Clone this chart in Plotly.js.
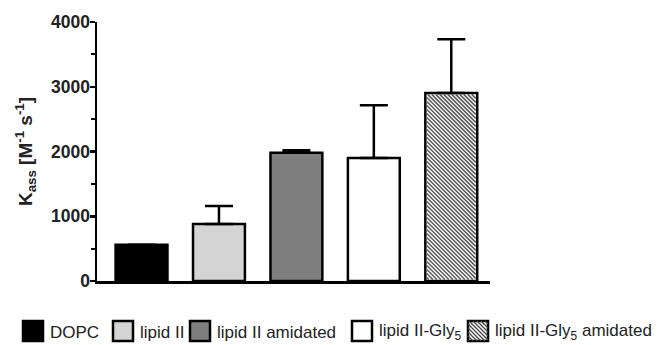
<!DOCTYPE html>
<html>
<head>
<meta charset="utf-8">
<script src="https://cdn.plot.ly/plotly-3.0.1.min.js"></script>
<style>html,body{margin:0;padding:0;background:#fff;}#chart{width:663px;height:345px;}</style>
</head>
<body>
<div id="chart"></div>
<script>
const categories = ["DOPC", "lipid II", "lipid II amidated", "lipid II-Gly<sub>5</sub>", "lipid II-Gly<sub>5</sub> amidated"];
const kassValues = [560, 880, 1980, 1900, 2905];
const kassErrors = [0, 280, 40, 815, 830];
const yTickVals = [0, 1000, 2000, 3000, 4000];
const yTickText = ["0", "1000", "2000", "3000", "4000"];

const fills = ["#000000", "#d4d4d4", "#7f7f7f", "#ffffff", "#ffffff"];
const hatched = [false, false, false, false, true];

const M = {l: 97, r: 173, t: 22, b: 64};
const W = 663, H = 345;
const pw = W - M.l - M.r, ph = H - M.t - M.b;
const XR = [-0.575, 4.5], YR = [0, 4000];
const BW = 0.67;
const fx = x => (x - M.l) / pw;
const fy = y => (H - M.b - y) / ph;
// pixel <-> data helpers
const dx2px = v => M.l + (v - XR[0]) / (XR[1] - XR[0]) * pw;
const px2dx = p => XR[0] + (p - M.l) / pw * (XR[1] - XR[0]);
const dy2px = v => H - M.b - (v - YR[0]) / (YR[1] - YR[0]) * ph;
const px2dy = p => YR[0] + (H - M.b - p) / ph * (YR[1] - YR[0]);

const xIdx = categories.map((c, i) => i);

const bars = {
  type: "bar",
  x: xIdx,
  y: kassValues,
  width: BW,
  marker: {color: fills, line: {color: "#000", width: 2.5}},
  error_y: {type: "data", symmetric: false, array: kassErrors, arrayminus: kassErrors.map(() => 0),
            color: "#000", thickness: 2.5, width: 14},
  showlegend: false,
  hoverinfo: "skip"
};

// hatch texture (derived from the bar's data extent)
const hx = [], hy = [];
xIdx.forEach((xi, i) => {
  if (!hatched[i]) return;
  const L = dx2px(xi - BW / 2) + 1.5, R = dx2px(xi + BW / 2) - 1.5;
  const T = dy2px(kassValues[i]) + 1.5, B = dy2px(0) - 1.5;
  const w = R - L, h = B - T;
  for (let c = -w; c < h; c += 4) {
    const xa = Math.max(0, -c), xb = Math.min(w, h - c);
    if (xb <= xa) continue;
    hx.push(px2dx(L + xa), px2dx(L + xb), null);
    hy.push(px2dy(T + xa + c), px2dy(T + xb + c), null);
  }
});
const hatch = {type: "scatter", mode: "lines", x: hx, y: hy, line: {color: "#5a5a5a", width: 1.5},
               showlegend: false, hoverinfo: "skip", connectgaps: false};

// manual legend
const swL = [23, 113, 190, 352, 468];
const swSize = 20, swTop = 321;
const shapes = [], annotations = [];
categories.forEach((c, i) => {
  const L = swL[i];
  shapes.push({type: "rect", xref: "paper", yref: "paper",
    x0: fx(L), x1: fx(L + swSize), y0: fy(swTop + swSize), y1: fy(swTop),
    fillcolor: fills[i], line: {color: "#000", width: 2.5}, layer: "above"});
  if (hatched[i]) {
    let d = "";
    for (let c0 = -swSize + 3; c0 < swSize; c0 += 4) {
      let xa = Math.max(0, -c0), xb = Math.min(swSize, swSize - c0);
      if (xb <= xa) continue;
      d += `M${fx(L + xa)},${fy(swTop + xa + c0)}L${fx(L + xb)},${fy(swTop + xb + c0)}`;
    }
    shapes.push({type: "path", xref: "paper", yref: "paper", path: d,
      line: {color: "#444", width: 1.3}, layer: "above"});
  }
  annotations.push({xref: "paper", yref: "paper", x: fx(L + swSize + 5), y: fy(swTop + swSize / 2 + 1),
    xanchor: "left", yanchor: "middle", showarrow: false, text: c,
    font: {family: "Liberation Sans, Arial, sans-serif", size: 17, color: "#222"}});
});

const layout = {
  width: W, height: H,
  margin: M,
  paper_bgcolor: "#fff", plot_bgcolor: "#fff",
  showlegend: false,
  xaxis: {range: XR, showgrid: false, zeroline: false, showticklabels: false,
          ticks: "", showline: true, linecolor: "#000", linewidth: 2.5, fixedrange: true},
  yaxis: {range: YR, showgrid: false, zeroline: false, showline: true, linecolor: "#000", linewidth: 2.5,
          tickvals: yTickVals, ticktext: yTickText, ticks: "outside", ticklen: 5, tickwidth: 2.5, tickcolor: "#000",
          ticklabelstandoff: -4,
          minor: {dtick: 500, ticks: "outside", ticklen: 4, tickwidth: 2, tickcolor: "#000"},
          tickfont: {family: "Liberation Sans, Arial, sans-serif", size: 17.5, weight: "bold", color: "#222"},
          title: {text: "K<sub>ass</sub> [M<sup>-1</sup> s<sup>-1</sup>]", standoff: 14,
                  font: {family: "Liberation Sans, Arial, sans-serif", size: 19, weight: "bold", color: "#222"}},
          automargin: false},
  shapes: shapes,
  annotations: annotations
};

Plotly.newPlot("chart", [bars, hatch], layout, {displayModeBar: false, staticPlot: true});
</script>
</body>
</html>
